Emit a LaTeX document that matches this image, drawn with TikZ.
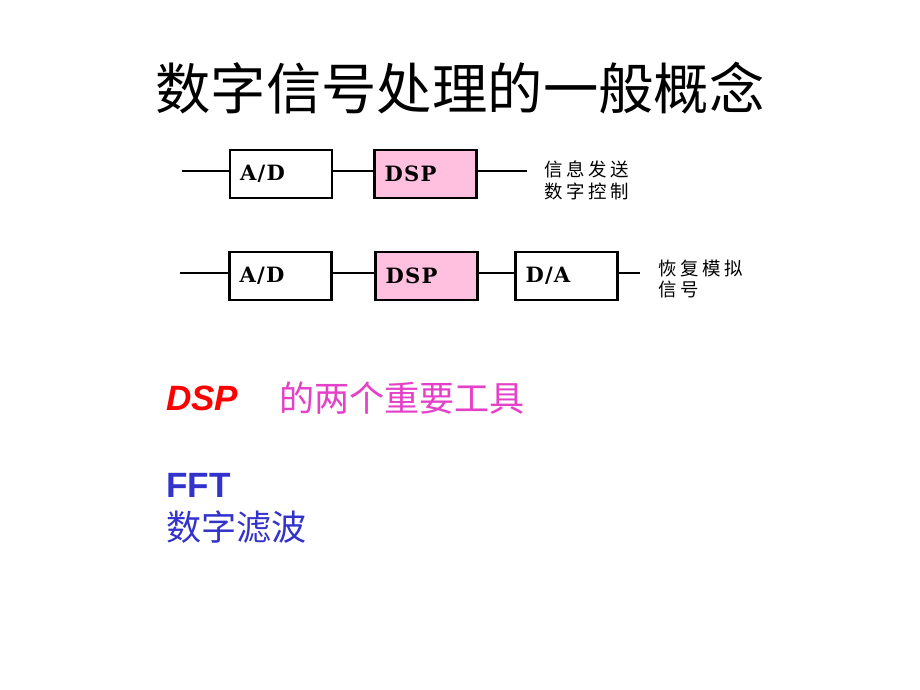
\documentclass[tikz,border=0pt]{standalone}
\usepackage{fontspec}
\setmainfont{Liberation Sans}
\newfontfamily\cjk{Noto Sans CJK SC}
\newfontfamily\cjknote[LetterSpace=20]{Noto Sans CJK SC}
\newfontfamily\blkfont[LetterSpace=6]{DejaVu Serif}
\definecolor{dsppink}{RGB}{255,192,224}
\definecolor{toolpink}{RGB}{228,64,200}
\definecolor{toolblue}{RGB}{51,51,204}

\begin{document}
\begin{tikzpicture}[x=0.02cm, y=-0.02cm, line width=1.3pt,
        blk/.style = {draw, line width=1.5pt, minimum width=2.04cm, minimum height=0.96cm, inner xsep=0.2cm,
                      text width=1.64cm, align=left, font=\blkfont\bfseries\fontsize{12}{14}\selectfont},
        dspblk/.style = {blk, fill=dsppink},
        note/.style = {anchor=west, inner sep=0, align=left, font=\cjknote\fontsize{10.5}{12.5}\selectfont},
        item/.style = {anchor=west, inner sep=0}]
        \useasboundingbox (0,0) rectangle (920,690);
        \node[font=\cjk\fontsize{31.5}{36}\selectfont] (title) at (460,88) {数字信号处理的一般概念};
        % first chain
        \node[blk] (ad1) at (281,174) {A/D};
        \node[dspblk] (dsp1) at (425.5,174) {DSP};
        \coordinate (in1) at (182,171);
        \coordinate (out1) at (527,171);
        \draw (in1) -- (in1 -| ad1.west);
        \draw (in1 -| ad1.east) -- (in1 -| dsp1.west);
        \draw (in1 -| dsp1.east) -- (out1);
        \node[note] (use1) at (543,180) {信息发送\\数字控制};
        % second chain
        \node[blk] (ad2) at (280.5,276) {A/D};
        \node[dspblk] (dsp2) at (426.5,276) {DSP};
        \node[blk] (da2) at (566.5,276) {D/A};
        \coordinate (in2) at (180,273);
        \coordinate (out2) at (640,273);
        \draw (in2) -- (in2 -| ad2.west);
        \draw (in2 -| ad2.east) -- (in2 -| dsp2.west);
        \draw (in2 -| dsp2.east) -- (in2 -| da2.west);
        \draw (in2 -| da2.east) -- (out2);
        \node[note] (use2) at (657,279) {恢复模拟\\信号};
        % tools
        \node[item, text=red, font=\fontsize{20}{24}\selectfont\bfseries\itshape] (dsp) at (165,398) {DSP};
        \node[item, text=toolpink, font=\cjk\fontsize{20}{24}\selectfont] (tools) at (278,398) {的两个重要工具};
        \node[item, text=toolblue, font=\fontsize{20}{24}\selectfont\bfseries] (fft) at (165,485) {FFT};
        \node[item, text=toolblue, font=\cjk\fontsize{20}{24}\selectfont] (filt) at (165,527) {数字滤波};
\end{tikzpicture}
\end{document}
